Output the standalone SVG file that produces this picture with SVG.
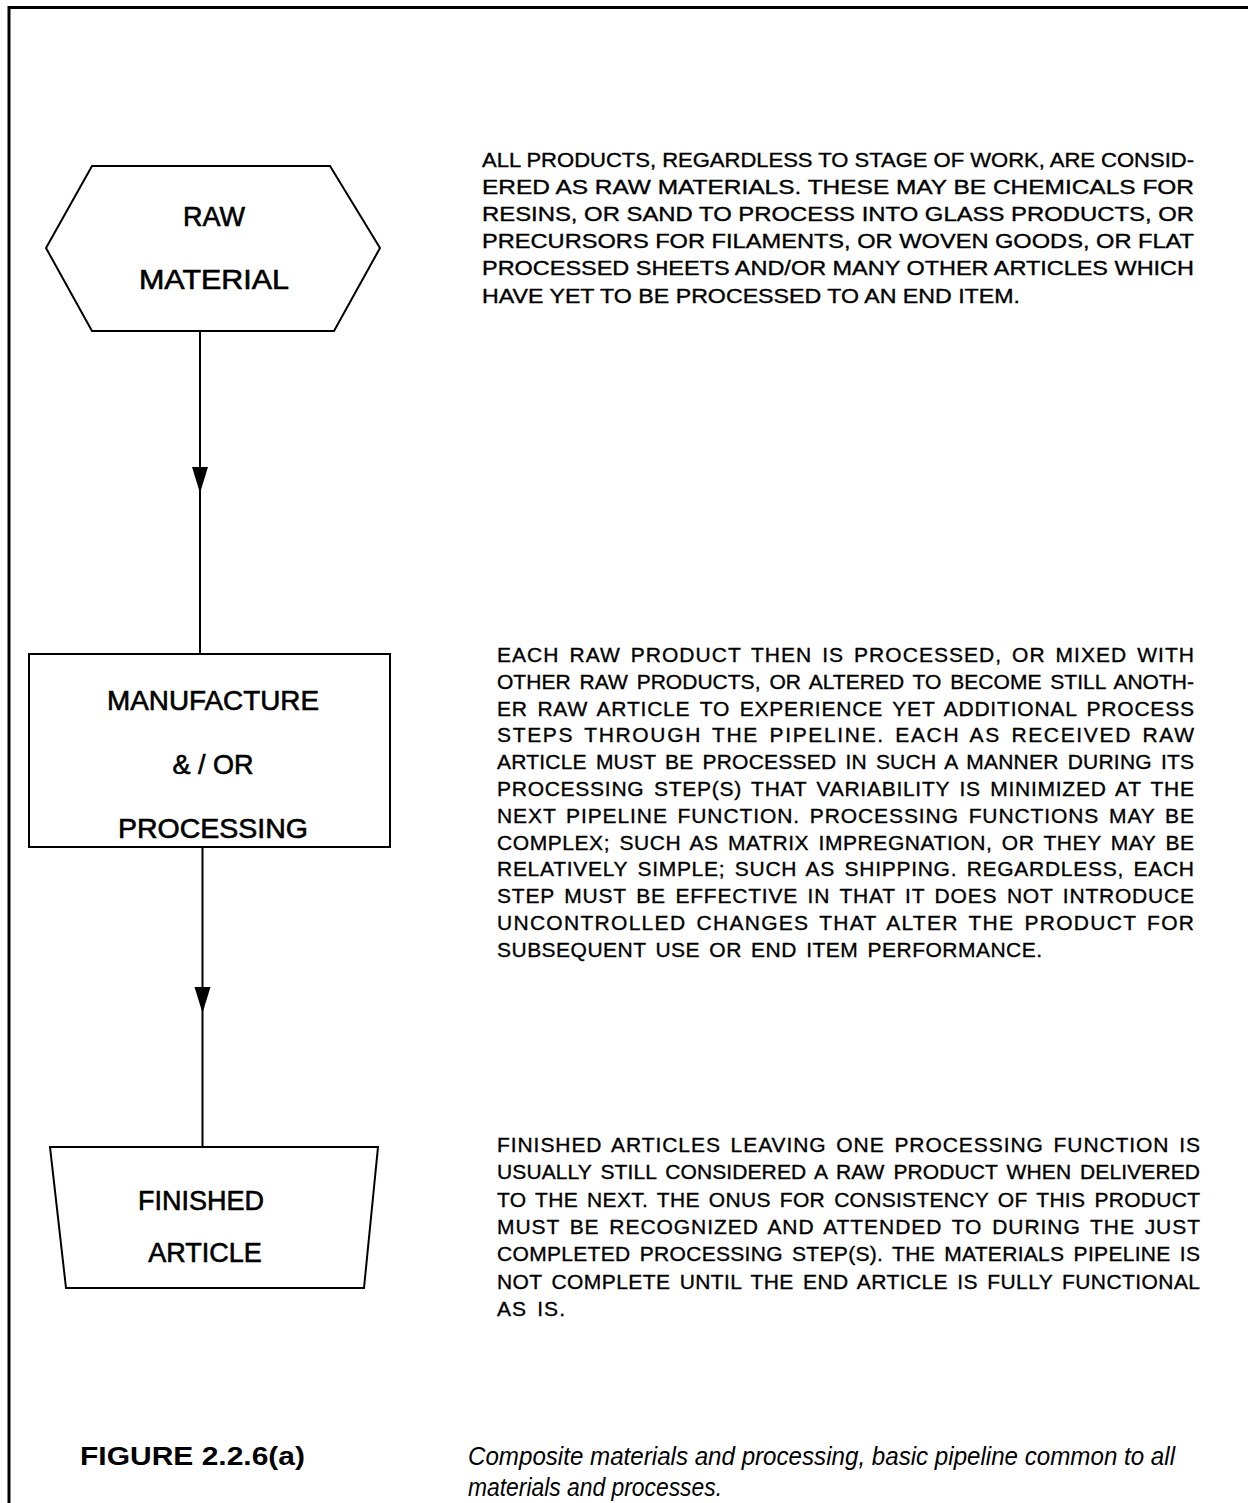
<svg xmlns="http://www.w3.org/2000/svg" width="1248" height="1503" viewBox="0 0 1248 1503">
  <style>
    .frame { fill: none; stroke: #000; stroke-width: 3; }
    .shape { fill: #fff; stroke: #000; stroke-width: 2; }
    .wire { fill: none; stroke: #000; stroke-width: 2; }
    .label { font-family: "Liberation Sans", Arial, sans-serif; font-size: 27px; fill: #000; stroke: #000; stroke-width: 0.6; text-anchor: middle; }
    .body { font-family: "Liberation Sans", Arial, sans-serif; font-size: 20px; fill: #000; stroke: #000; stroke-width: 0.35; }
    .wide { font-size: 21px; word-spacing: 3px; }
    .capt { font-family: "Liberation Sans", Arial, sans-serif; font-size: 25px; fill: #000; }
    .capt-b { font-weight: bold; }
    .capt-i { font-style: italic; }
  </style>

  <rect width="1248" height="1503" fill="#fff"/>

  <!-- page frame: top and left rules -->
  <path class="frame" d="M9,1503 L9,7.5 L1248,7.5"/>

  <!-- connectors -->
  <g id="connectors">
    <line class="wire" x1="200" y1="331" x2="200" y2="654"/>
    <path d="M192,467 L208,467 L200,493 Z" fill="#000"/>
    <line class="wire" x1="202.5" y1="847" x2="202.5" y2="1147"/>
    <path d="M194.5,987 L210.5,987 L202.5,1013 Z" fill="#000"/>
  </g>

  <!-- raw material (hexagon) -->
  <g id="raw-material">
    <polygon class="shape" points="92,166 330,166 380,248 334,331 92,331 46,248"/>
    <text class="label" x="214" y="226">RAW</text>
    <text class="label" x="214" y="289" textLength="150" lengthAdjust="spacingAndGlyphs">MATERIAL</text>
  </g>

  <!-- manufacture / processing (box) -->
  <g id="manufacture">
    <rect class="shape" x="29" y="654" width="361" height="193"/>
    <text class="label" x="213" y="710" textLength="212" lengthAdjust="spacingAndGlyphs">MANUFACTURE</text>
    <text class="label" x="213" y="774">&amp; / OR</text>
    <text class="label" x="213" y="838" textLength="190" lengthAdjust="spacingAndGlyphs">PROCESSING</text>
  </g>

  <!-- finished article (trapezoid) -->
  <g id="finished-article">
    <polygon class="shape" points="50,1147 378,1147 364,1288 66,1288"/>
    <text class="label" x="201" y="1210">FINISHED</text>
    <text class="label" x="205" y="1262">ARTICLE</text>
  </g>

  <!-- descriptive paragraphs -->
  <g id="note-raw" class="body">
    <text x="482" y="167" textLength="712" lengthAdjust="spacingAndGlyphs">ALL PRODUCTS, REGARDLESS TO STAGE OF WORK, ARE CONSID-</text>
    <text x="482" y="194" textLength="712" lengthAdjust="spacingAndGlyphs">ERED AS RAW MATERIALS.   THESE MAY BE CHEMICALS FOR</text>
    <text x="482" y="221" textLength="712" lengthAdjust="spacingAndGlyphs">RESINS, OR SAND TO PROCESS INTO GLASS PRODUCTS, OR</text>
    <text x="482" y="248" textLength="712" lengthAdjust="spacingAndGlyphs">PRECURSORS FOR FILAMENTS, OR WOVEN GOODS, OR FLAT</text>
    <text x="482" y="275" textLength="712" lengthAdjust="spacingAndGlyphs">PROCESSED SHEETS AND/OR MANY OTHER ARTICLES WHICH</text>
    <text x="482" y="303" textLength="538" lengthAdjust="spacingAndGlyphs">HAVE YET TO BE PROCESSED TO AN END ITEM.</text>
  </g>

  <g id="note-process" class="body wide">
    <text x="497" y="662" textLength="697" lengthAdjust="spacing">EACH RAW PRODUCT THEN IS PROCESSED, OR MIXED WITH</text>
    <text x="497" y="689" textLength="697" lengthAdjust="spacing">OTHER RAW PRODUCTS, OR ALTERED TO BECOME STILL ANOTH-</text>
    <text x="497" y="716" textLength="697" lengthAdjust="spacing">ER RAW ARTICLE TO EXPERIENCE YET ADDITIONAL PROCESS</text>
    <text x="497" y="742" textLength="697" lengthAdjust="spacing">STEPS THROUGH THE PIPELINE.   EACH AS RECEIVED RAW</text>
    <text x="497" y="769" textLength="697" lengthAdjust="spacing">ARTICLE MUST BE PROCESSED IN SUCH A MANNER DURING ITS</text>
    <text x="497" y="796" textLength="697" lengthAdjust="spacing">PROCESSING STEP(S) THAT VARIABILITY IS MINIMIZED AT THE</text>
    <text x="497" y="823" textLength="697" lengthAdjust="spacing">NEXT PIPELINE FUNCTION.   PROCESSING FUNCTIONS MAY BE</text>
    <text x="497" y="850" textLength="697" lengthAdjust="spacing">COMPLEX; SUCH AS MATRIX IMPREGNATION, OR THEY MAY BE</text>
    <text x="497" y="876" textLength="697" lengthAdjust="spacing">RELATIVELY SIMPLE; SUCH AS SHIPPING.   REGARDLESS, EACH</text>
    <text x="497" y="903" textLength="697" lengthAdjust="spacing">STEP MUST BE EFFECTIVE IN THAT IT DOES NOT INTRODUCE</text>
    <text x="497" y="930" textLength="697" lengthAdjust="spacing">UNCONTROLLED CHANGES THAT ALTER THE PRODUCT FOR</text>
    <text x="497" y="957" textLength="545" lengthAdjust="spacing">SUBSEQUENT USE OR END ITEM PERFORMANCE.</text>
  </g>

  <g id="note-finished" class="body wide">
    <text x="497" y="1152" textLength="703" lengthAdjust="spacing">FINISHED ARTICLES LEAVING ONE PROCESSING FUNCTION IS</text>
    <text x="497" y="1179" textLength="703" lengthAdjust="spacing">USUALLY STILL CONSIDERED A RAW PRODUCT WHEN DELIVERED</text>
    <text x="497" y="1207" textLength="703" lengthAdjust="spacing">TO THE NEXT.  THE ONUS FOR CONSISTENCY OF THIS PRODUCT</text>
    <text x="497" y="1234" textLength="703" lengthAdjust="spacing">MUST BE RECOGNIZED AND ATTENDED TO DURING THE JUST</text>
    <text x="497" y="1261" textLength="703" lengthAdjust="spacing">COMPLETED PROCESSING STEP(S).  THE MATERIALS PIPELINE IS</text>
    <text x="497" y="1289" textLength="703" lengthAdjust="spacing">NOT COMPLETE UNTIL THE END ARTICLE IS FULLY FUNCTIONAL</text>
    <text x="497" y="1316" textLength="68" lengthAdjust="spacing">AS IS.</text>
  </g>

  <!-- caption -->
  <g id="caption" class="capt">
    <text class="capt-b" x="80" y="1465" textLength="225" lengthAdjust="spacingAndGlyphs">FIGURE 2.2.6(a)</text>
    <text class="capt-i" x="468" y="1465" textLength="707" lengthAdjust="spacingAndGlyphs">Composite materials and processing, basic pipeline common to all</text>
    <text class="capt-i" x="468" y="1496" textLength="254" lengthAdjust="spacingAndGlyphs">materials and processes.</text>
  </g>
</svg>
